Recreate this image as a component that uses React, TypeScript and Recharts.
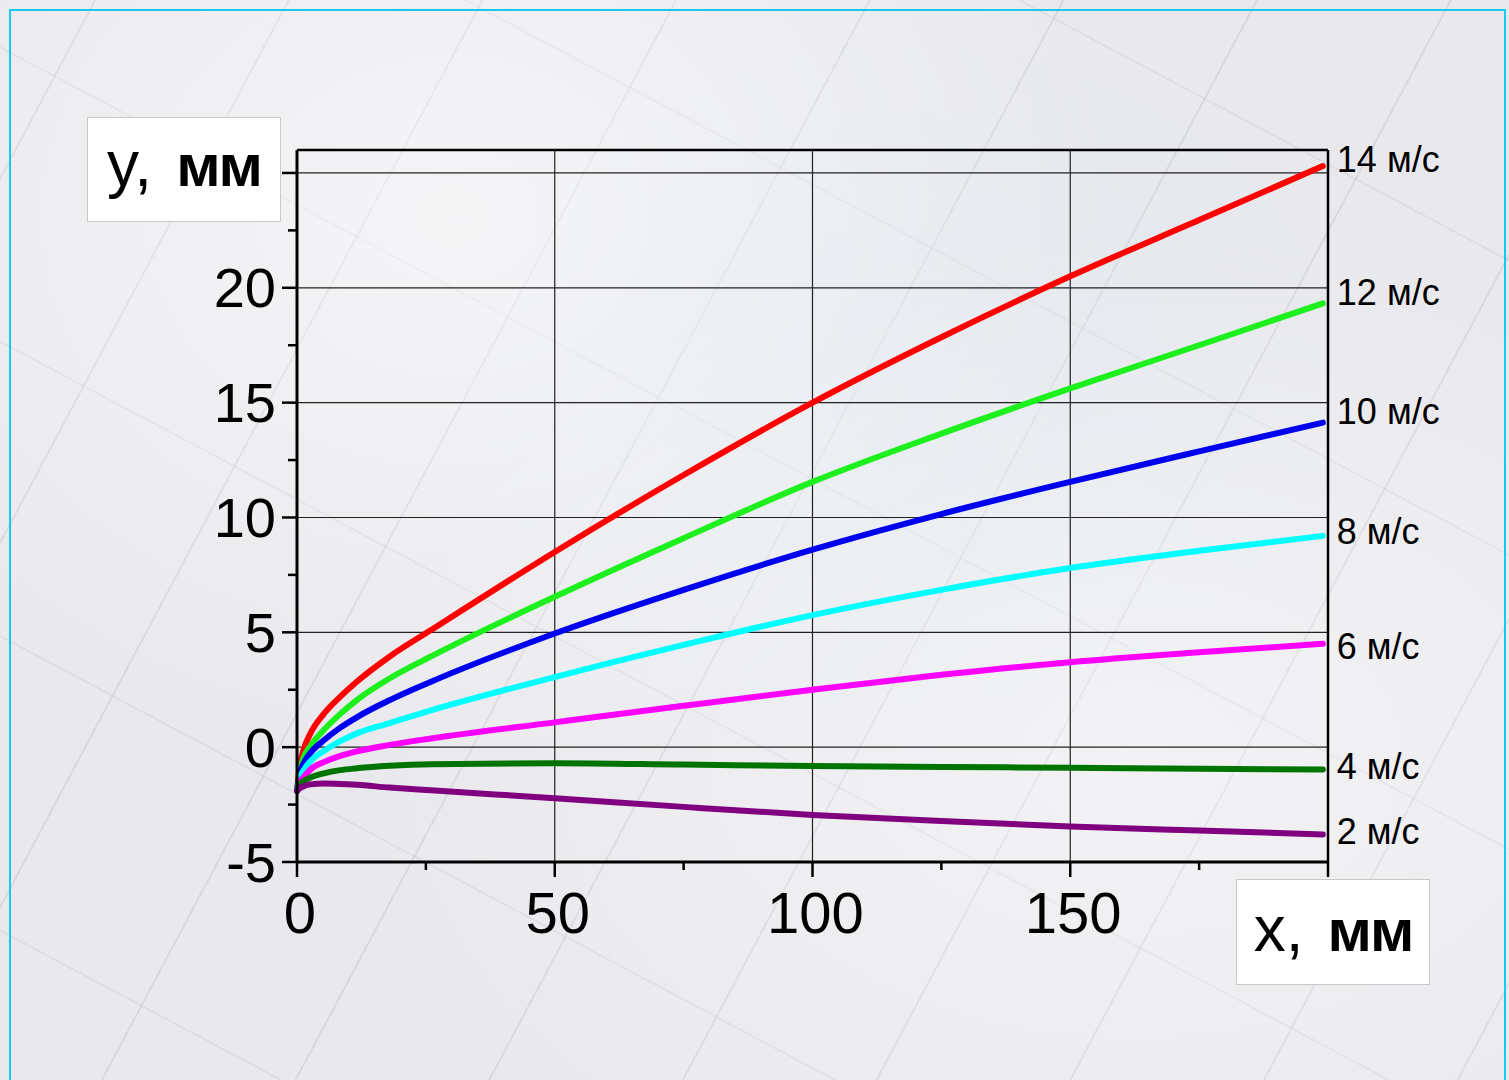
import React from 'react';
import { LineChart, Line, XAxis, YAxis, ReferenceLine, LabelList } from 'recharts';

// sample positions along the channel, mm
const xs = [0, 0.6, 1.3, 2.6, 5.2, 8.4, 11.6, 18, 26, 50, 75, 100, 125, 150, 175, 199];

// deflection y (mm) for each flow speed
const v14 = [-1.9, -0.75, -0.1, 0.6, 1.45, 2.2, 2.85, 3.95, 5.1, 8.5, 11.85, 15.0, 17.85, 20.5, 22.95, 25.3];
const v12 = [-1.9, -1.0, -0.45, 0.05, 0.75, 1.45, 2.05, 3.0, 3.95, 6.55, 9.1, 11.55, 13.65, 15.62, 17.5, 19.32];
const v10 = [-1.9, -1.1, -0.7, -0.25, 0.3, 0.85, 1.3, 2.05, 2.85, 4.95, 6.85, 8.6, 10.15, 11.55, 12.88, 14.13];
const v8 = [-1.9, -1.3, -1.0, -0.61, -0.17, 0.26, 0.6, 1.05, 1.6, 3.05, 4.45, 5.75, 6.85, 7.8, 8.55, 9.2];
const v6 = [-1.9, -1.5, -1.3, -0.97, -0.65, -0.38, -0.18, 0.1, 0.38, 1.08, 1.8, 2.5, 3.15, 3.7, 4.13, 4.5];
const v4 = [-1.9, -1.62, -1.48, -1.32, -1.14, -1.0, -0.92, -0.81, -0.74, -0.7, -0.76, -0.82, -0.86, -0.9, -0.94, -0.97];
const v2 = [-1.9, -1.78, -1.7, -1.62, -1.58, -1.6, -1.64, -1.76, -1.88, -2.22, -2.6, -2.95, -3.22, -3.45, -3.63, -3.8];

const speedLabels = ['14 м/с', '12 м/с', '10 м/с', '8 м/с', '6 м/с', '4 м/с', '2 м/с'];

const xTicks = [0, 25, 50, 75, 100, 125, 150, 175, 200];
const yTicks = [-5, -2.5, 0, 2.5, 5, 7.5, 10, 12.5, 15, 17.5, 20, 22.5, 25];
const xGrid = [50, 100, 150];
const yGrid = [0, 5, 10, 15, 20, 25];

const seriesValues = [v14, v12, v10, v8, v6, v4, v2];
const series = [
  { key: 's14', color: '#ff0000', dy: -7 },
  { key: 's12', color: '#1ef01e', dy: -11 },
  { key: 's10', color: '#0000f0', dy: -11 },
  { key: 's8', color: '#00ffff', dy: -4 },
  { key: 's6', color: '#ff00ff', dy: 3 },
  { key: 's4', color: '#007400', dy: -3 },
  { key: 's2', color: '#800080', dy: -3 },
];

const rows = xs.map((x, i) => {
  const row: Record<string, number> = { x };
  series.forEach((s, k) => {
    row[s.key] = seriesValues[k][i];
  });
  return row;
});

const FONT = '"Liberation Sans", Arial, sans-serif';
const last = xs.length - 1;

function YTick(props: any) {
  const { x, y, payload } = props;
  const v = payload.value as number;
  const major = v % 5 === 0;
  return (
    <g>
      <line x1={x - (major ? 15 : 9)} x2={x} y1={y} y2={y} stroke="#000" strokeWidth={2.5} />
      {major && v !== 25 && (
        <text x={x - 21} y={y} textAnchor="end" dominantBaseline="central" fontFamily={FONT} fontSize={56} fill="#000">
          {String(v)}
        </text>
      )}
    </g>
  );
}

function XTick(props: any) {
  const { x, y, payload } = props;
  const v = payload.value as number;
  const major = v % 50 === 0;
  return (
    <g>
      <line x1={x} x2={x} y1={y} y2={y + (major ? 15 : 8)} stroke="#000" strokeWidth={2.5} />
      {major && v !== 200 && (
        <text x={x + 3} y={y + 50} textAnchor="middle" dominantBaseline="central" fontFamily={FONT} fontSize={58} fill="#000">
          {String(v)}
        </text>
      )}
    </g>
  );
}

function speedLabel(text: string, dy: number) {
  return (p: any) => {
    if (p.index !== last) return null;
    return (
      <text x={p.x + 14} y={p.y + dy} dominantBaseline="central" fontFamily={FONT} fontSize={36} fill="#000">
        {text}
      </text>
    );
  };
}

const marble: React.CSSProperties = {
  position: 'absolute',
  left: 0,
  top: 0,
  width: 1509,
  height: 1080,
  overflow: 'hidden',
  backgroundColor: '#e9e9ed',
  backgroundImage: [
    'radial-gradient(ellipse at 30% 20%, rgba(255,255,255,0.55), transparent 45%)',
    'radial-gradient(ellipse at 75% 70%, rgba(255,255,255,0.45), transparent 50%)',
    'radial-gradient(ellipse at 60% 35%, rgba(220,232,240,0.5), transparent 40%)',
    'repeating-linear-gradient(118deg, transparent 0 83px, rgba(140,140,150,0.18) 83px 85px, transparent 85px 171px)',
    'repeating-linear-gradient(28deg, transparent 0 131px, rgba(140,140,150,0.12) 131px 133px, transparent 133px 260px)',
  ].join(','),
};

function AxisBox({ left, top, width, height, a, b, lift }: { left: number; top: number; width: number; height: number; a: string; b: string; lift: number }) {
  return (
    <div
      style={{
        position: 'absolute',
        left,
        top,
        width,
        height,
        background: '#fff',
        border: '1px solid #c8c8c8',
        boxSizing: 'border-box',
        display: 'flex',
        alignItems: 'center',
        justifyContent: 'center',
        fontFamily: FONT,
        color: '#000',
        lineHeight: 1,
      }}
    >
      <div style={{ position: 'relative', top: -lift, display: 'flex', alignItems: 'baseline' }}>
        <span style={{ fontSize: 64 }}>{a}</span>
        <span style={{ fontSize: 60, fontWeight: 700, marginLeft: 24, letterSpacing: -2 }}>{b}</span>
      </div>
    </div>
  );
}

export default function App() {
  return (
    <div style={marble}>
      <div style={{ position: 'absolute', left: 9, top: 9, width: 1497, height: 1080, border: '2px solid #19c8ee', boxSizing: 'border-box' }} />
      <div style={{ position: 'absolute', left: 0, top: 0 }}>
        <LineChart width={1509} height={1080} data={rows} margin={{ top: 150, right: 181, bottom: 158, left: 197 }}>
          <XAxis
            dataKey="x"
            type="number"
            domain={[0, 200]}
            ticks={xTicks}
            interval={0}
            height={60}
            tickSize={0}
            tickMargin={0}
            tick={<XTick />}
            axisLine={{ stroke: '#000', strokeWidth: 3 }}
            tickLine={false}
          />
          <YAxis
            type="number"
            domain={[-5, 26]}
            ticks={yTicks}
            interval={0}
            width={100}
            tickSize={0}
            tickMargin={0}
            tick={<YTick />}
            axisLine={{ stroke: '#000', strokeWidth: 3 }}
            tickLine={false}
            allowDataOverflow
          />
          {yGrid.map((v) => (
            <ReferenceLine key={'h' + v} y={v} stroke="#222" strokeWidth={1.2} />
          ))}
          {xGrid.map((v) => (
            <ReferenceLine key={'v' + v} x={v} stroke="#222" strokeWidth={1.2} />
          ))}
          <ReferenceLine y={26} stroke="#000" strokeWidth={2.5} />
          <ReferenceLine x={200} stroke="#000" strokeWidth={2.5} />
          {series.map((s, k) => (
            <Line
              key={s.key}
              dataKey={s.key}
              type="monotone"
              stroke={s.color}
              strokeWidth={6}
              strokeLinecap="round"
              dot={false}
              activeDot={false}
              isAnimationActive={false}
            >
              <LabelList dataKey={s.key} content={speedLabel(speedLabels[k], s.dy)} />
            </Line>
          ))}
        </LineChart>
      </div>
      <AxisBox left={87} top={117} width={194} height={105} a="y," b="мм" lift={6} />
      <AxisBox left={1236} top={879} width={194} height={106} a="x," b="мм" lift={3} />
    </div>
  );
}
